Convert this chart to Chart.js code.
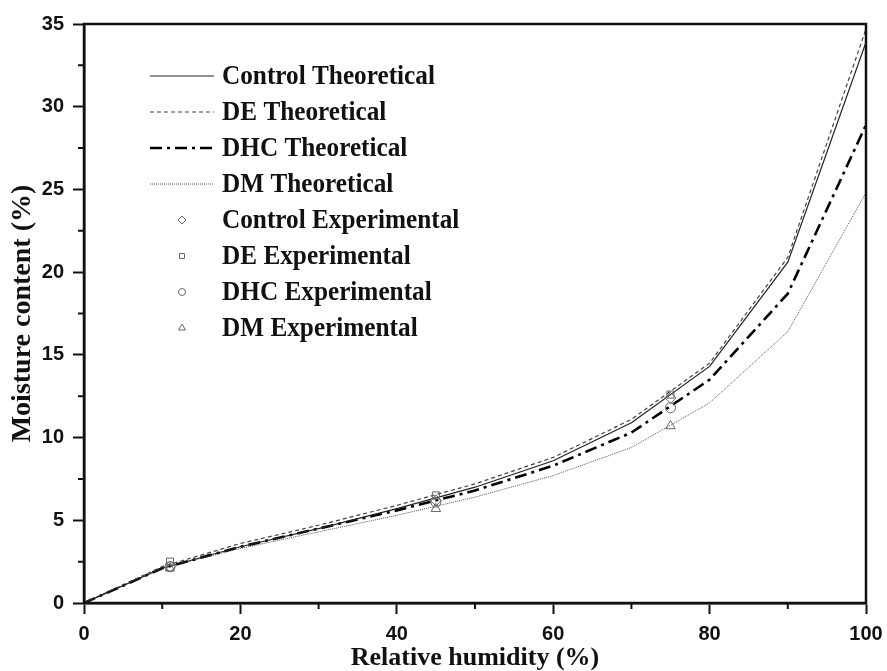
<!DOCTYPE html>
<html>
<head>
<meta charset="utf-8">
<script src="https://cdn.jsdelivr.net/npm/chart.js@4"></script>
<style>
  html, body { margin: 0; padding: 0; background: #fff; }
  #wrap { width: 887px; height: 671px; }
</style>
</head>
<body>
<div id="wrap"><canvas id="myChart" width="887" height="671"></canvas></div>
<script>
// Relative humidity for the model curves and for the measurements
var rhTheory = [0, 10, 20, 30, 40, 50, 60, 70, 80, 90, 100];
var rhExp = [11, 45, 75];

// Theoretical moisture content (%)
var controlTheory = [0, 2.1, 3.4, 4.5, 5.7, 7.0, 8.6, 10.9, 14.3, 20.6, 33.9];
var deTheory      = [0, 2.2, 3.6, 4.7, 5.9, 7.2, 8.8, 11.1, 14.5, 20.9, 34.7];
var dhcTheory     = [0, 2.1, 3.4, 4.5, 5.6, 6.8, 8.3, 10.3, 13.5, 18.7, 28.9];
var dmTheory      = [0, 2.1, 3.3, 4.3, 5.3, 6.4, 7.7, 9.4, 12.1, 16.4, 24.8];

// Experimental moisture content (%)
var controlExp = [2.2, 6.2, 12.4];
var deExp      = [2.5, 6.5, 12.6];
var dhcExp     = [2.2, 6.1, 11.8];
var dmExp      = [2.1, 5.7, 10.7];

var legendNames = ["Control Theoretical", "DE Theoretical", "DHC Theoretical", "DM Theoretical",
                   "Control Experimental", "DE Experimental", "DHC Experimental", "DM Experimental"];

function pairs(xs, ys) {
    return xs.map(function(x, i) { return { x: x, y: ys[i] }; });
}

function theoryLine(label, ys, color, width, dash) {
    return {
        label: label, data: pairs(rhTheory, ys), showLine: true,
        borderColor: color, borderWidth: width, borderDash: dash,
        pointRadius: 0, tension: 0, order: 2
    };
}

function expPoints(label, ys, style, size) {
    return {
        label: label, data: pairs(rhExp, ys), showLine: false,
        pointStyle: style, pointRadius: size, borderColor: "#666", borderWidth: 1,
        backgroundColor: "rgba(255,255,255,0)", order: 1
    };
}

var datasets = [
    theoryLine(legendNames[0], controlTheory, "#222", 1.2, []),
    theoryLine(legendNames[1], deTheory, "#444", 1.2, [4, 3]),
    theoryLine(legendNames[2], dhcTheory, "#000", 2.6, [12, 5, 3, 5]),
    theoryLine(legendNames[3], dmTheory, "#555", 1, [1, 1]),
    expPoints(legendNames[4], controlExp, "rectRot", 5.5),
    expPoints(legendNames[5], deExp, "rect", 5),
    expPoints(legendNames[6], dhcExp, "circle", 5),
    expPoints(legendNames[7], dmExp, "triangle", 5.5)
];

// major ticks get a label, minor ones are drawn short by the plugin
function isMajor(scale, v) {
    return scale.axis === "x" ? v % 20 === 0 : v % 5 === 0;
}

// Box round the plot, the short minor ticks, and the hand-made legend
var framePlugin = {
    id: "frame",
    afterDraw: function(chart) {
        var ctx = chart.ctx, a = chart.chartArea;
        ctx.save();
        ctx.strokeStyle = "#111";
        ctx.lineWidth = 2.5;
        ctx.strokeRect(a.left, a.top, a.right - a.left, a.bottom - a.top);

        // minor ticks
        ctx.lineWidth = 2;
        ctx.beginPath();
        chart.scales.x.ticks.forEach(function(t) {
            if (!isMajor(chart.scales.x, t.value)) {
                var px = chart.scales.x.getPixelForValue(t.value);
                ctx.moveTo(px, a.bottom);
                ctx.lineTo(px, a.bottom + 6);
            }
        });
        chart.scales.y.ticks.forEach(function(t) {
            if (!isMajor(chart.scales.y, t.value)) {
                var py = chart.scales.y.getPixelForValue(t.value);
                ctx.moveTo(a.left, py);
                ctx.lineTo(a.left - 6, py);
            }
        });
        ctx.stroke();

        // legend
        ctx.font = "bold 25px 'Liberation Serif'";
        ctx.textBaseline = "middle";
        for (var i = 0; i < datasets.length; i++) {
            var ds = datasets[i];
            var y = 76 + i * 36;
            ctx.save();
            ctx.translate(222, y);
            ctx.scale(1.01, 1.08);
            ctx.fillStyle = "#111";
            ctx.fillText(ds.label, 0, 1);
            ctx.restore();
            if (ds.showLine) {
                ctx.strokeStyle = ds.borderColor;
                ctx.lineWidth = ds.borderWidth;
                ctx.setLineDash(ds.borderDash);
                ctx.beginPath();
                ctx.moveTo(150, y);
                ctx.lineTo(214, y);
                ctx.stroke();
                ctx.setLineDash([]);
            } else {
                ctx.fillStyle = "#fff";
                ctx.strokeStyle = ds.borderColor;
                Chart.helpers.drawPoint(ctx, {
                    pointStyle: ds.pointStyle, radius: ds.pointRadius - 1.5, rotation: 0, borderWidth: 1
                }, 182, y);
            }
        }
        ctx.restore();
    }
};

var tickFont = { family: "Liberation Sans", weight: "bold", size: 20 };

var ctx = document.getElementById("myChart").getContext("2d");
var config = {
    type: "scatter",
    data: { datasets: datasets },
    options: {
        responsive: false,
        animation: false,
        layout: { padding: { top: 24, right: 21, left: 0, bottom: 0 } },
        plugins: { legend: { display: false }, tooltip: { enabled: false } },
        scales: {
            x: {
                type: "linear", min: 0, max: 100,
                afterFit: function(scale) {
                    scale.height = 68;
                    scale.paddingLeft = 0;
                    scale.paddingRight = 0;
                },
                border: { display: true, color: "#111", width: 2.5 },
                grid: {
                    drawOnChartArea: false, drawTicks: true, tickLength: 11, tickWidth: 2,
                    tickColor: function(c) { return c.tick && c.tick.value % 20 === 0 ? "#111" : "rgba(0,0,0,0)"; }
                },
                ticks: {
                    stepSize: 10, autoSkip: false, maxRotation: 0, padding: 8, color: "#111",
                    font: tickFont,
                    callback: function(v) { return v % 20 === 0 ? v : ""; }
                },
                title: {
                    display: true, text: "Relative humidity (%)", color: "#111", padding: { top: 0, bottom: 0 },
                    font: { family: "Liberation Serif", weight: "bold", size: 26, lineHeight: 1.0 }
                }
            },
            y: {
                type: "linear", min: 0, max: 35,
                afterFit: function(scale) { scale.width = 84; },
                border: { display: true, color: "#111", width: 2.5 },
                grid: {
                    drawOnChartArea: false, drawTicks: true, tickLength: 11, tickWidth: 2,
                    tickColor: function(c) { return c.tick && c.tick.value % 5 === 0 ? "#111" : "rgba(0,0,0,0)"; }
                },
                ticks: {
                    stepSize: 2.5, autoSkip: false, padding: 9, color: "#111",
                    font: tickFont,
                    callback: function(v) { return v % 5 === 0 ? v : ""; }
                },
                title: {
                    display: true, text: "Moisture content (%)", color: "#111", padding: { top: 6, bottom: 0 },
                    font: { family: "Liberation Serif", weight: "bold", size: 28 }
                }
            }
        }
    },
    plugins: [framePlugin]
};
var chart = new Chart(ctx, config);
</script>
</body>
</html>
